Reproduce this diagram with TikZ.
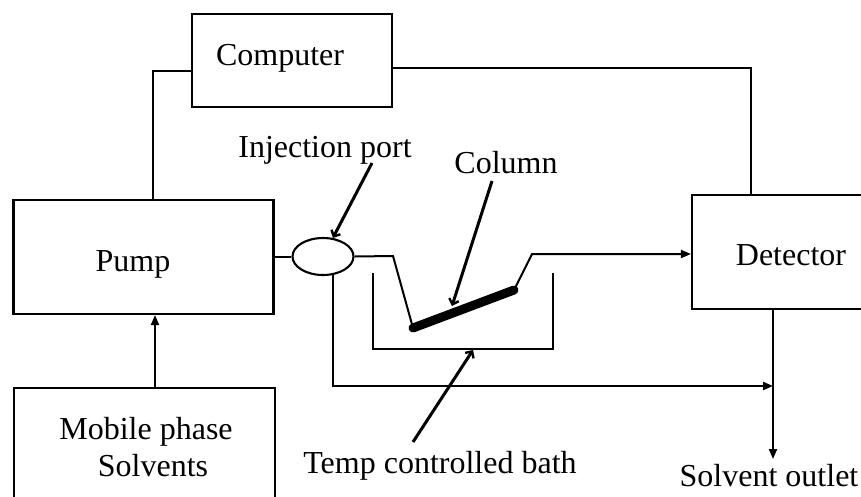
\documentclass[tikz,border=0pt]{standalone}
\usepackage{fontspec}
\setmainfont{Liberation Serif}
\usetikzlibrary{arrows.meta,shapes.geometric}
\begin{document}
\begin{tikzpicture}[x=1pt,y=-1pt,
  box/.style={draw,line width=2.1pt,rectangle,inner sep=0pt},
  lbl/.style={anchor=base,inner sep=0pt,font=\fontsize{32}{38}\selectfont},
  pipe/.style={line width=2pt},
  flow/.style={line width=2pt,-{Triangle[length=10pt,width=8pt]}},
  pointer/.style={line width=3pt,-{Straight Barb[length=5pt,width=10pt,line width=2.4pt]}},
  colm/.style={line width=9pt,line cap=round}]
\clip (0,0) rectangle (861,496);
\fill[white] (0,0) rectangle (861,496);
% boxes
\node[box,minimum width=200pt,minimum height=93pt] (computer) at (292,60.5) {};
\node[box,minimum width=260pt,minimum height=114pt] (pump) at (143.5,257) {};
\node[box,minimum width=261pt,minimum height=140pt] (mobile) at (144.5,458) {};
\node[box,minimum width=190pt,minimum height=114pt] (detector) at (787,252) {};
\node[draw,line width=2.1pt,ellipse,minimum width=61pt,minimum height=37pt,inner sep=0pt] (inj) at (323,256.5) {};
% texts
\node[lbl] (tcomp) at (280,65) {Computer};
\node[lbl] (tpump) at (133,271) {Pump};
\node[lbl] (tmob1) at (146,439) {Mobile phase};
\node[lbl] (tmob2) at (153,476) {Solvents};
\node[lbl] (tdet) at (791,265) {Detector};
\node[lbl] (tinj) at (325,157) {Injection port};
\node[lbl] (tcol) at (506,173) {Column};
\node[lbl] (tbath) at (440,473) {Temp controlled bath};
\node[lbl] (tout) at (769,486) {Solvent outlet};
% coordinates
\coordinate (c1) at (153,71);
\coordinate (c2) at (751,68);
\coordinate (c3) at (155,350);
\coordinate (p1) at (393,256);
\coordinate (colA) at (413,328);
\coordinate (colB) at (514,290);
\coordinate (p2) at (532,254);
\coordinate (b2) at (773,386);
\coordinate (o) at (773,459);
\coordinate (bath1) at (373,273);
\coordinate (bath2) at (553,349);
\coordinate (bath3) at (553,273);
\coordinate (ia) at (372,163);
\coordinate (ca) at (492,181);
\coordinate (cb) at (452,306);
\coordinate (ta) at (413,442);
\coordinate (tb) at (473,350);
% connectors
\draw[pipe] (c1 |- pump.north) |- (computer.west |- c1);
\draw[pipe] (computer.east |- c2) -| (detector.north -| c2);
\draw[flow] (mobile.north -| c3) -- (pump.south -| c3);
\draw[pipe] (pump.east |- inj.west) -- (inj.west);
\draw[pipe] (inj.east) -- (p1) -- (colA);
\draw[colm] (colA) -- (colB);
\draw[flow] (colB) -- (p2) -- (p2 -| detector.west);
\draw[pipe] (bath1) |- (bath2) -- (bath3);
\draw[flow] (inj.-61) |- (b2);
\draw[flow] (detector.south -| o) -- (o);
% label pointers
\draw[pointer] (ia) -- (inj.62);
\draw[pointer] (ca) -- (cb);
\draw[pointer] (ta) -- (tb);
\end{tikzpicture}
\end{document}
